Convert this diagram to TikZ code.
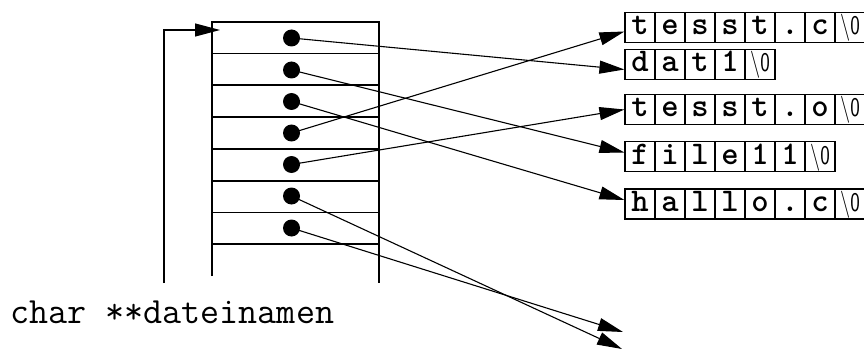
\documentclass[tikz,border=0pt]{standalone}
\usepackage{fontspec}
\usepackage{graphicx}
\setmainfont{Liberation Sans}
\usetikzlibrary{arrows.meta}
\tikzset{cell/.style={draw=black, rectangle, line width=1.1pt, minimum width=30pt, minimum height=30pt, inner sep=0pt, text height=18pt, text depth=3pt, font=\fontsize{33}{34}\selectfont\ttfamily\bfseries}}
\tikzset{dot/.style={fill=black, circle, inner sep=0pt, minimum size=17pt}}
\tikzset{ptr/.style={-{Triangle[length=25pt,width=13pt]}, line width=1.1pt}}
\tikzset{slot/.style={line width=1.5pt}}
\newcommand{\nul}{\scalebox{0.75}[1]{\fontsize{27}{30}\selectfont\sffamily\mdseries\textbackslash 0}}

\begin{document}
\begin{tikzpicture}[x=1pt, y=-1pt]
    \useasboundingbox (0,0) rectangle (864,350);
    % pointer array
    \draw[slot] (212,276) -- (212,22) -- (379,22) -- (379,283);
    \foreach \y in {53.5,85,117,149,181,212.5,244}
        \draw[slot] (212,\y) -- (379,\y);
    \foreach \y [count=\i] in {38,70,101.5,133,164.5,196,228}
        \node[dot] (p\i) at (291.5,\y) {};
    % strings
    \foreach \c [count=\i] in {t,e,s,s,t,.,c,\nul}
        \node[cell] (tc\i) at ({610+30*\i},27.5) {\c};
    \foreach \c [count=\i] in {d,a,t,1,\nul}
        \node[cell] (dat\i) at ({610+30*\i},64.5) {\c};
    \foreach \c [count=\i] in {t,e,s,s,t,.,o,\nul}
        \node[cell] (to\i) at ({610+30*\i},109.5) {\c};
    \foreach \c [count=\i] in {f,i,l,e,1,1,\nul}
        \node[cell] (fi\i) at ({610+30*\i},156.5) {\c};
    \foreach \c [count=\i] in {h,a,l,l,o,.,c,\nul}
        \node[cell] (ha\i) at ({610+30*\i},204) {\c};
    \node[anchor=base west, inner sep=0pt, font=\fontsize{37}{40}\selectfont\ttfamily] (name) at (10,323) {char **dateinamen};
    \coordinate (foot) at (164,283);
    \coordinate (head) at (220,30);
    \coordinate (e1) at (623,332);
    \coordinate (e2) at (622,349);
    % connections
    \draw[ptr] (foot) |- (head);
    \draw[ptr] (p1.center) -- ([yshift=-5pt]dat1.west);
    \draw[ptr] (p2.center) -- ([yshift=4pt]fi1.west);
    \draw[ptr] (p3.center) -- ([yshift=4pt]ha1.west);
    \draw[ptr] (p4.center) -- ([yshift=-4pt]tc1.west);
    \draw[ptr] (p5.center) -- (to1.west);
    \draw[ptr] (p6.center) -- (e2);
    \draw[ptr] (p7.center) -- (e1);
\end{tikzpicture}
\end{document}
